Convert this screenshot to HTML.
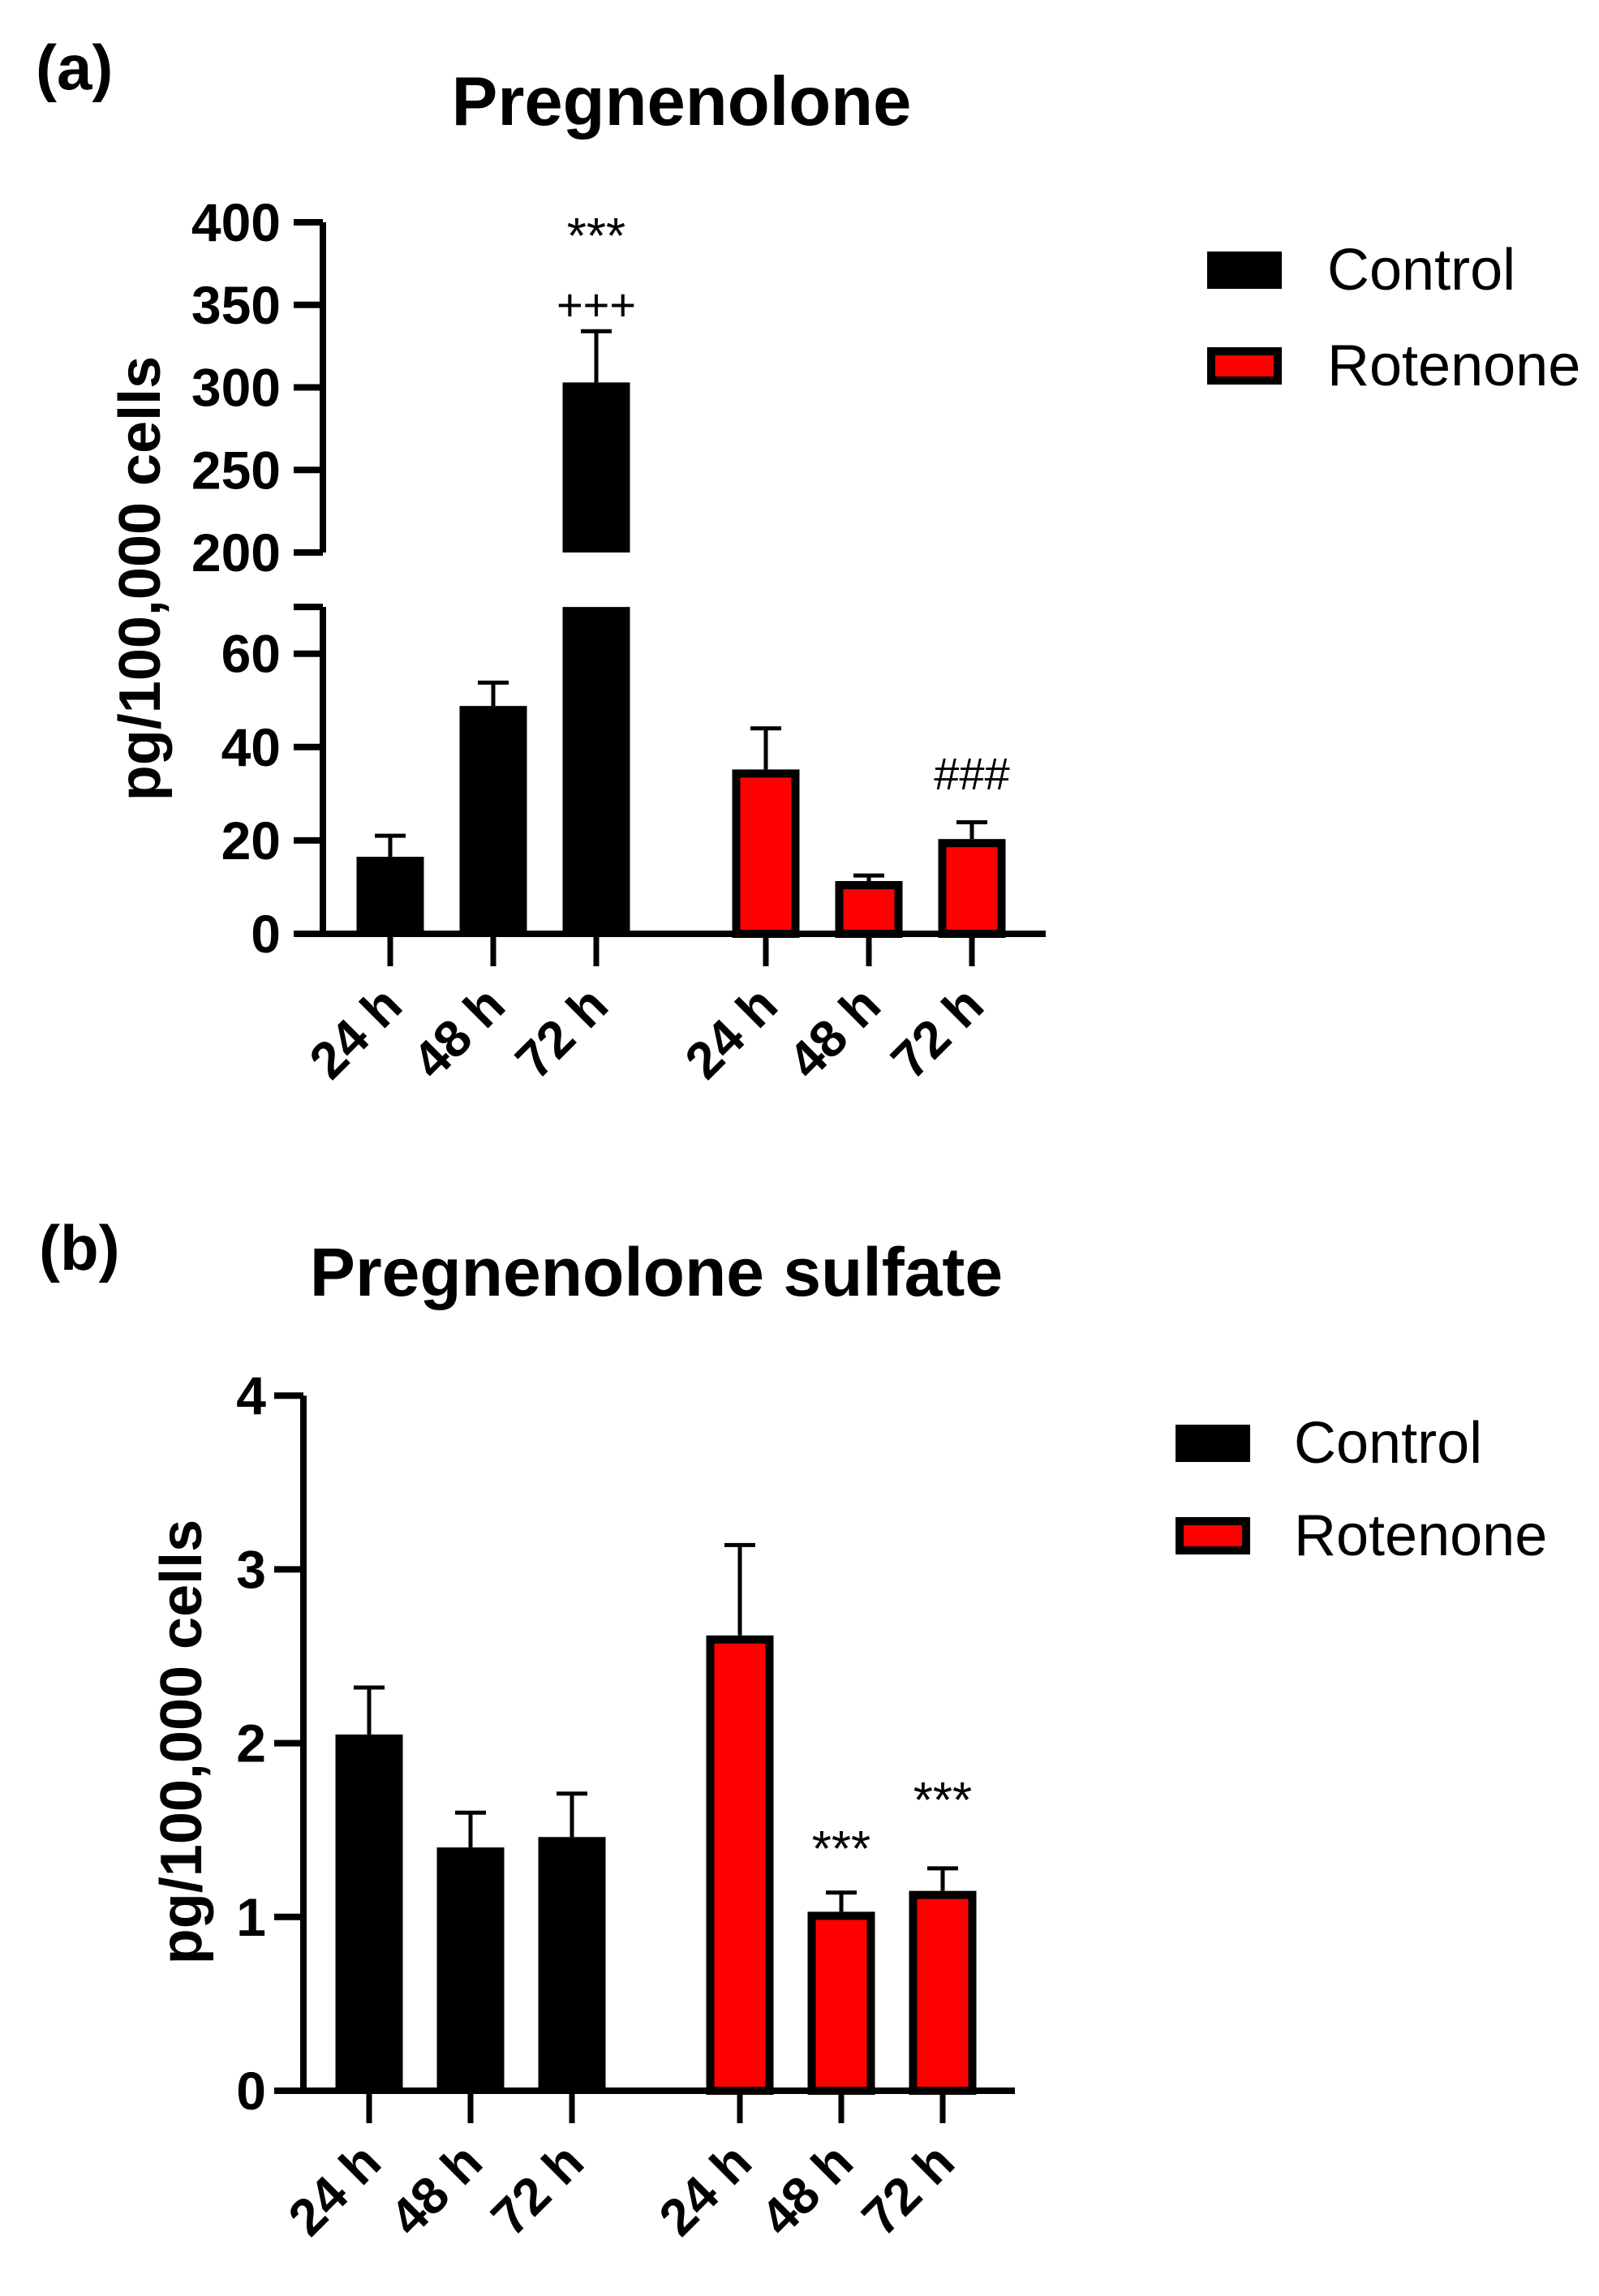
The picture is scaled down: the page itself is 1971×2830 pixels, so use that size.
<!DOCTYPE html>
<html><head><meta charset="utf-8"><style>
html,body{margin:0;padding:0;background:#fff;}
svg{display:block;font-family:"Liberation Sans",Arial,sans-serif;}
</style></head><body>
<svg id="fig" width="1971" height="2830" viewBox="0 0 1971 2830">
<text x="44" y="110" font-size="78" font-weight="bold">(a)</text>
<text x="840" y="154" font-size="85" font-weight="bold" text-anchor="middle">Pregnenolone</text>
<text x="48" y="1565" font-size="78" font-weight="bold">(b)</text>
<text x="809" y="1597" font-size="84" font-weight="bold" text-anchor="middle">Pregnenolone sulfate</text>
<g id="gA"></g>
<g id="gB"></g>
</svg>
<script>
const categories = ["24 h","48 h","72 h","24 h","48 h","72 h"];
const groups = ["Control","Control","Control","Rotenone","Rotenone","Rotenone"];
const aValues = [16.5, 48.8, 303, 35.2, 11.3, 20.3];
const aErrors = [21, 53.8, 334, 44, 12.5, 23.9];
const aTicksLow = [0,20,40,60];
const aTicksHigh = [200,250,300,350,400];
const bValues = [2.05, 1.40, 1.46, 2.62, 1.03, 1.15];
const bErrors = [2.32, 1.60, 1.71, 3.14, 1.14, 1.28];
const bTicks = [0,1,2,3,4];
const aAnnot = [["***",2,292,62],["+++",2,375,56],["###",5,953,56]];
const bAnnot = [["***",4,2280,62],["***",5,2220,62]];

const NS="http://www.w3.org/2000/svg";
function mk(parent,tag,attrs,txt){const e=document.createElementNS(NS,tag);for(const k in attrs)e.setAttribute(k,attrs[k]);if(txt!==undefined)e.textContent=txt;parent.appendChild(e);return e;}

function drawChart(g,cfg){
  const {axisX,xEnd,centers,bw,values,errors,yScale,y0,annots}=cfg;
  values.forEach((v,i)=>{
    const red=groups[i]==="Rotenone";
    const segs=cfg.segments?cfg.segments(v):[[yScale(v),y0]];
    segs.forEach(([top,bot])=>{
      let r;
      if(red){
        r=mk(g,'rect',{x:centers[i]-bw/2+5,y:top+5,width:bw-10,height:bot-top-5,fill:'#ff0000',stroke:'#000','stroke-width':10});
      } else {
        r=mk(g,'rect',{x:centers[i]-bw/2,y:top,width:bw,height:bot-top,fill:'#000'});
      }
      
      
    });
    const eTop=yScale(errors[i]), vTop=yScale(v);
    const l=mk(g,'path',{d:`M${centers[i]},${vTop} V${eTop} M${centers[i]-19},${eTop} H${centers[i]+19}`,stroke:'#000','stroke-width':5,fill:'none'});
    
    
    const t=mk(g,'line',{x1:centers[i],x2:centers[i],y1:y0,y2:y0+40,stroke:'#000','stroke-width':7});
    
    
    const lx=centers[i]+18, ly=y0+92;
    const lb=mk(g,'text',{x:lx,y:ly,'font-size':64,'font-weight':'bold','text-anchor':'end',transform:`rotate(-45 ${lx} ${ly})`},categories[i]);
    
    
  });
  const xa=mk(g,'line',{x1:axisX-3,x2:xEnd,y1:y0,y2:y0,stroke:'#000','stroke-width':8});
  
  
  annots.forEach(([s,i,y,fs])=>{
    const a=mk(g,'text',{x:centers[i],y:y+20,'font-size':fs,'text-anchor':'middle'},s);
    
    
  });
}
function yAxis(g,axisX,tickVals,yScale,yTop,yBot,labelX){
  const ax=mk(g,'line',{x1:axisX,x2:axisX,y1:yTop,y2:yBot,stroke:'#000','stroke-width':8});
  
  
  tickVals.forEach(v=>{
    const y=yScale(v);
    const t=mk(g,'line',{x1:axisX-36,x2:axisX,y1:y,y2:y,stroke:'#000','stroke-width':8});
    
    
    const l=mk(g,'text',{x:labelX,y:y+23,'font-size':66,'font-weight':'bold','text-anchor':'end'},String(v));
    
    
  });
}
function legend(g,x,y1,y2,tx){
  const c=mk(g,'rect',{x:x,y:y1,width:92,height:46,fill:'#000'});
  
  
  const ct=mk(g,'text',{x:tx,y:y1+47,'font-size':72},'Control');
  
  
  const r=mk(g,'rect',{x:x+5,y:y2+5,width:82,height:36,fill:'#ff0000',stroke:'#000','stroke-width':10});
  
  
  const rt=mk(g,'text',{x:tx,y:y2+47,'font-size':72},'Rotenone');
  
  
}
function yTitle(g,cx,cy){
  const t=mk(g,'text',{x:cx,y:cy,'font-size':72,'font-weight':'bold','text-anchor':'middle',transform:`rotate(-90 ${cx} ${cy})`},'pg/100,000 cells');
  
  
}

const gA=document.getElementById('gA');
const A_y0=1151, A_lowK=115.1/20, A_breakLow=70, A_hi0=681, A_hiK=(681-274)/200;
function aScale(v){return v<=A_breakLow? A_y0-v*A_lowK : A_hi0-(v-200)*A_hiK;}
const aCenters=[481,608,735,944,1071,1198];
drawChart(gA,{axisX:398,xEnd:1289,centers:aCenters,bw:83,values:aValues,errors:aErrors,yScale:aScale,y0:A_y0,annots:aAnnot,
  segments:v=> v>A_breakLow? [[A_y0-A_breakLow*A_lowK,A_y0],[aScale(v),A_hi0]] : [[aScale(v),A_y0]]});
yAxis(gA,398,aTicksLow,aScale,A_y0-A_breakLow*A_lowK,A_y0,346);
yAxis(gA,398,aTicksHigh,aScale,274,A_hi0,346);
{const t=mk(gA,'line',{x1:362,x2:398,y1:A_y0-A_breakLow*A_lowK,y2:A_y0-A_breakLow*A_lowK,stroke:'#000','stroke-width':8});

}
yTitle(gA,197,713);
legend(gA,1488,310,428,1636);

const gB=document.getElementById('gB');
const B_y0=2577, B_k=214.2;
function bScale(v){return B_y0-v*B_k;}
drawChart(gB,{axisX:374,xEnd:1251,centers:[455,580,705,912,1037,1162],bw:83,values:bValues,errors:bErrors,yScale:bScale,y0:B_y0,annots:bAnnot});
yAxis(gB,374,bTicks,bScale,bScale(4),B_y0,328);
yTitle(gB,248,2147);
legend(gB,1449,1756,1870,1595);
</script>
</body></html>
